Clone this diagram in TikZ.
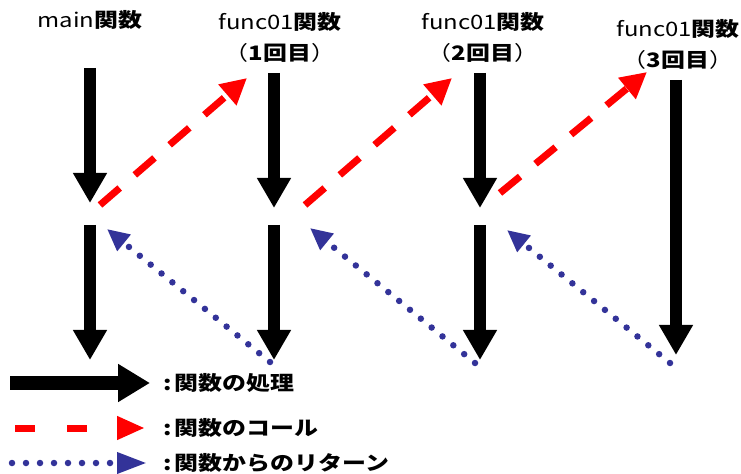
\documentclass[tikz,border=0pt]{standalone}
\usepackage{fontspec}
\setmainfont[FakeStretch=1.2]{Noto Sans CJK JP}
\usetikzlibrary{arrows.meta}
\definecolor{retblue}{RGB}{51,51,153}
\newcommand{\jb}[1]{{\bfseries #1}}
\begin{document}
\begin{tikzpicture}[x=1bp,y=-1bp,
  proc/.style={line width=12bp,-{Triangle[length=30bp,width=32bp]}},
  call/.style={red,line width=7bp,dash pattern=on 26bp off 20bp,-{Triangle[length=26bp,width=26bp]}},
  ret/.style={retblue,line width=6.5bp,line cap=round,dash pattern=on 0bp off 14bp,-{Triangle[length=22bp,width=20bp]}},
  lbl/.style={font=\fontsize{20}{31}\selectfont,inner sep=0pt,align=center},
  leg/.style={font=\fontsize{20}{24}\selectfont\bfseries,inner sep=0pt,anchor=west}]
\useasboundingbox (0,0) rectangle (741,474);
% headers
\node[lbl] (hmain) at (90,20) {main\jb{関数}};
\node[lbl] (hf1) at (280,37) {func01\jb{関数}\\（\jb{1回目}）};
\node[lbl] (hf2) at (483,37) {func01\jb{関数}\\（\jb{2回目}）};
\node[lbl] (hf3) at (678,44) {func01\jb{関数}\\（\jb{3回目}）};
% coordinates
\coordinate (m1a) at (90,68);  \coordinate (m1b) at (90,203);
\coordinate (m2a) at (90,225); \coordinate (m2b) at (90,360);
\coordinate (a1a) at (274,73);  \coordinate (a1b) at (274,208);
\coordinate (a2a) at (274,225); \coordinate (a2b) at (274,360);
\coordinate (b1a) at (480,73);  \coordinate (b1b) at (480,208);
\coordinate (b2a) at (480,225); \coordinate (b2b) at (480,360);
\coordinate (c1a) at (676,80);  \coordinate (c1b) at (676,355);
% process arrows
\draw[proc] (m1a) -- (m1b);
\draw[proc] (m2a) -- (m2b);
\draw[proc] (a1a) -- (a1b);
\draw[proc] (a2a) -- (a2b);
\draw[proc] (b1a) -- (b1b);
\draw[proc] (b2a) -- (b2b);
\draw[proc] (c1a) -- (c1b);
% calls
\coordinate (k1s) at (100,205); \coordinate (k1e) at (247,78);
\coordinate (k2s) at (305,205); \coordinate (k2e) at (452,78);
\coordinate (k3s) at (500,193); \coordinate (k3e) at (647,72);
\draw[call] (k1s) -- (k1e);
\draw[call] (k2s) -- (k2e);
\draw[call] (k3s) -- (k3e);
% returns
\coordinate (r1s) at (270,362); \coordinate (r1e) at (107,229);
\coordinate (r2s) at (475,363); \coordinate (r2e) at (310,228);
\coordinate (r3s) at (670,363); \coordinate (r3e) at (507,230);
\draw[ret] (r1s) -- (r1e);
\draw[ret] (r2s) -- (r2e);
\draw[ret] (r3s) -- (r3e);
% legend
\coordinate (l1s) at (10,383); \coordinate (l1e) at (150,383);
\coordinate (l2s) at (15,428); \coordinate (l2e) at (145,428);
\coordinate (l3s) at (12,463); \coordinate (l3e) at (147,463);
\draw[line width=14bp,-{Triangle[length=32bp,width=36bp]}] (l1s) -- (l1e);
\draw[call,dash pattern=on 20bp off 32bp,-{Triangle[length=28bp,width=22bp]}] (l2s) -- (l2e);
\draw[ret,-{Triangle[length=30bp,width=20bp]}] (l3s) -- (l3e);
\node[leg] (t1) at (163,383) {:\,関数の処理};
\node[leg] (t2) at (163,428) {:\,関数のコール};
\node[leg] (t3) at (163,463) {:\,関数からのリターン};
\end{tikzpicture}
\end{document}
